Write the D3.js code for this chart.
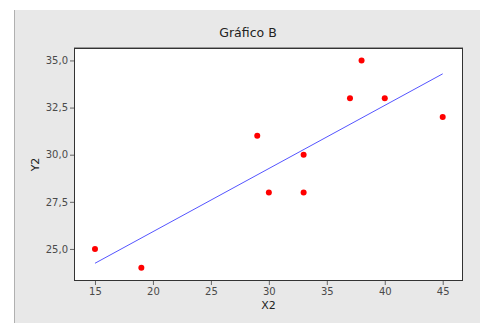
<!DOCTYPE html>
<html>
<head>
<meta charset="utf-8">
<script src="https://cdn.jsdelivr.net/npm/d3@7"></script>
<style>
  html, body { margin: 0; padding: 0; background: #ffffff; }
  svg { display: block; }
</style>
</head>
<body>
<svg id="chart" width="480" height="323"></svg>
<script>
// Data
const x2Values = [15, 19, 29, 30, 33, 33, 37, 38, 40, 45];
const y2Values = [25, 24, 31, 28, 30, 28, 33, 35, 33, 32];
const fitX = [15, 45];
const fitY = [24.24, 34.29];
const xTicks = [15, 20, 25, 30, 35, 40, 45];
const yTicks = [25, 27.5, 30, 32.5, 35];
const titleText = "Gráfico B";
const xLabel = "X2";
const yLabel = "Y2";

const W = 480, H = 323;
const plot = { left: 74, right: 463, top: 48, bottom: 281 };

const svg = d3.select("#chart");

// gray panel
svg.append("rect").attr("x", 14).attr("y", 10).attr("width", W - 14).attr("height", H - 10)
  .attr("fill", "#e8e8e8");
svg.append("line").attr("x1", 14.5).attr("x2", 14.5).attr("y1", 10).attr("y2", H)
  .attr("stroke", "#b0b0b0");

const x = d3.scaleLinear().domain([13.19, 46.75]).range([plot.left, plot.right]);
const y = d3.scaleLinear().domain([23.3, 35.66]).range([plot.bottom, plot.top]);

// plot area
svg.append("rect").attr("x", plot.left).attr("y", plot.top)
  .attr("width", plot.right - plot.left).attr("height", plot.bottom - plot.top)
  .attr("fill", "#ffffff");

const loc = d3.formatLocale({ decimal: ",", thousands: ".", grouping: [3], currency: ["", ""] });
const fy = loc.format(".1f");

const xAxis = svg.append("g").attr("transform", `translate(0,${plot.bottom})`)
  .call(d3.axisBottom(x).tickValues(xTicks).tickSize(4).tickPadding(3).tickFormat(d3.format("d")));
const yAxis = svg.append("g").attr("transform", `translate(${plot.left},0)`)
  .call(d3.axisLeft(y).tickValues(yTicks).tickSize(4).tickPadding(2).tickFormat(fy));

[xAxis, yAxis].forEach(g => {
  g.select(".domain").remove();
  g.selectAll(".tick line").attr("stroke", "#666");
  g.selectAll(".tick text").attr("fill", "#4a4a4a")
    .style("font-family", "DejaVu Sans").style("font-size", "10px");
});

// box border
svg.append("rect").attr("x", plot.left + 0.5).attr("y", plot.top + 0.5)
  .attr("width", plot.right - plot.left - 1).attr("height", plot.bottom - plot.top - 1)
  .attr("fill", "none").attr("stroke", "#333");
svg.append("line").attr("x1", plot.left).attr("x2", plot.right)
  .attr("y1", plot.top - 0.5).attr("y2", plot.top - 0.5).attr("stroke", "#999");

// fit line
const lineData = fitX.map((d, i) => [d, fitY[i]]);
svg.append("path").datum(lineData)
  .attr("d", d3.line().x(d => x(d[0])).y(d => y(d[1])))
  .attr("fill", "none").attr("stroke", "#5555ff").attr("stroke-width", 1);

// points
svg.append("g").selectAll("circle").data(x2Values.map((d, i) => [d, y2Values[i]]))
  .join("circle")
  .attr("cx", d => x(d[0])).attr("cy", d => y(d[1])).attr("r", 3)
  .attr("fill", "#ff0000");

// title & labels
svg.append("text").attr("x", 248).attr("y", 37).attr("text-anchor", "middle")
  .style("font-family", "DejaVu Sans").style("font-size", "12.5px").attr("fill", "#222")
  .text(titleText);
svg.append("text").attr("x", (plot.left + plot.right) / 2).attr("y", 309).attr("text-anchor", "middle")
  .style("font-family", "DejaVu Sans").style("font-size", "11px").attr("fill", "#222")
  .text(xLabel);
svg.append("text").attr("transform", `translate(39,${(plot.top + plot.bottom) / 2}) rotate(-90)`)
  .attr("text-anchor", "middle")
  .style("font-family", "DejaVu Sans").style("font-size", "11px").attr("fill", "#222")
  .text(yLabel);
</script>
</body>
</html>
